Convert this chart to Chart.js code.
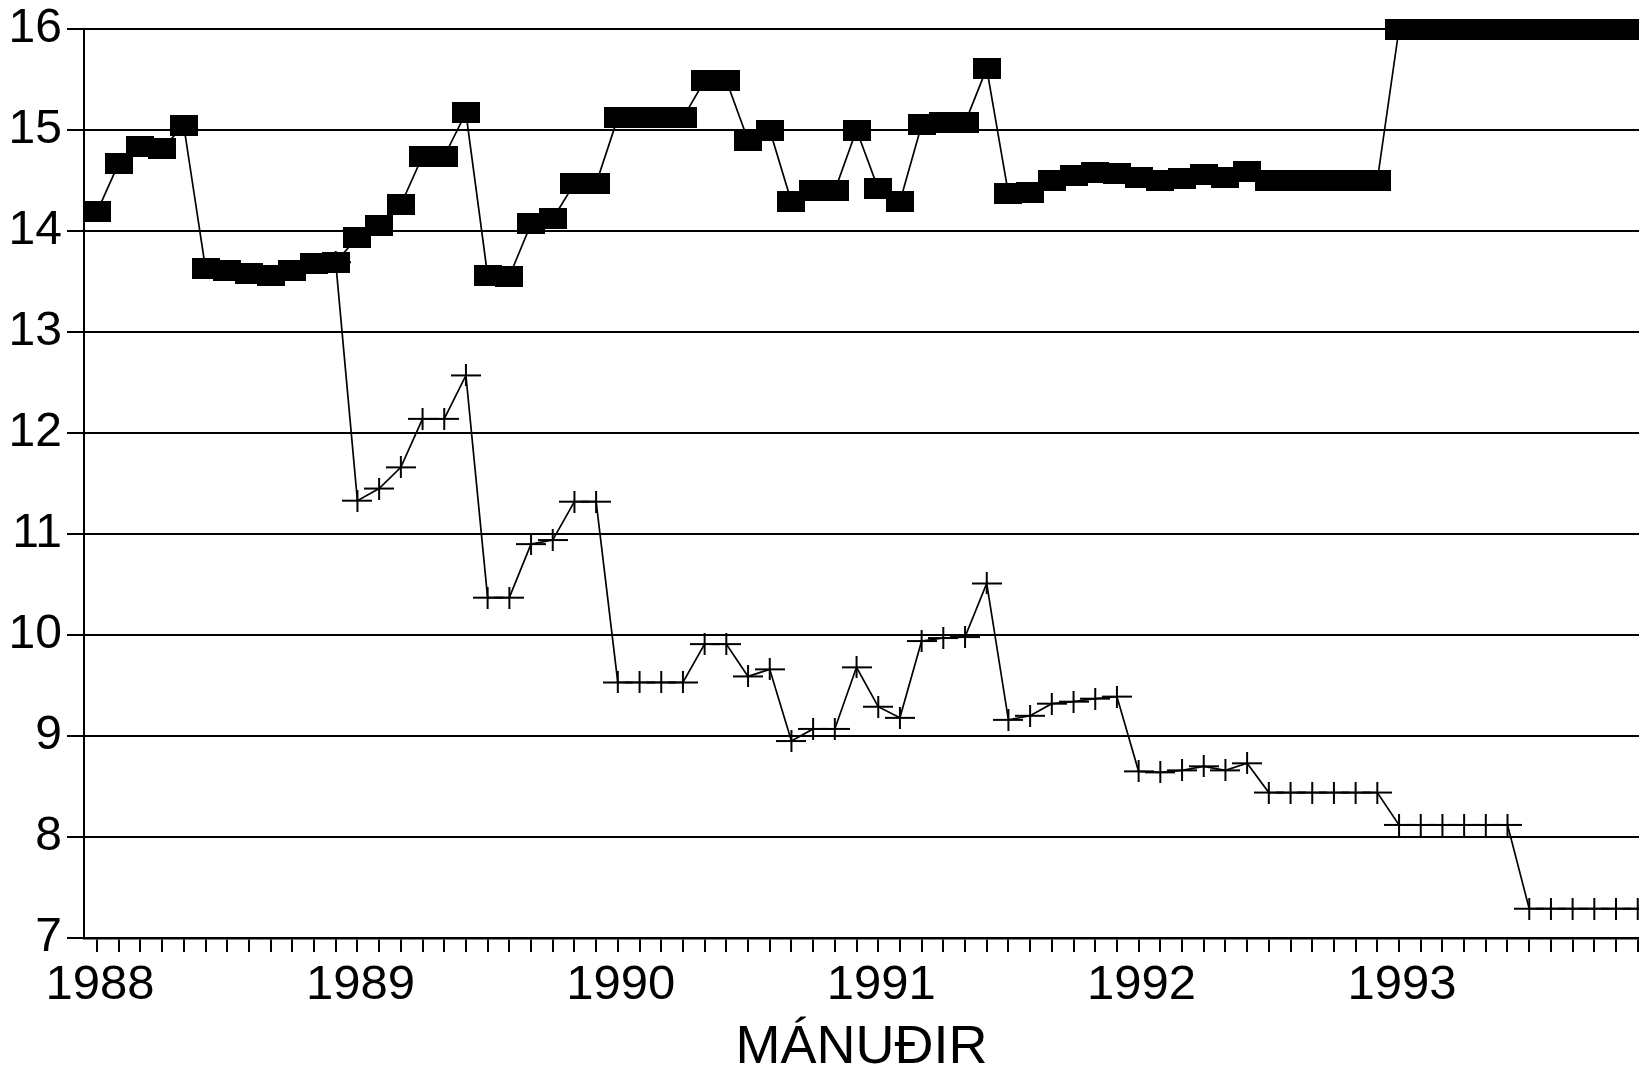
<!DOCTYPE html>
<html>
<head>
<meta charset="utf-8">
<script src="https://cdn.jsdelivr.net/npm/chart.js@4.4.0/dist/chart.umd.min.js"></script>
<style>
html,body{margin:0;padding:0;background:#fff;overflow:hidden}
#wrap{width:1639px;height:1071px;position:relative;background:#fff}
</style>
</head>
<body>
<div id="wrap"><canvas id="c"></canvas></div>
<script>
// ---- data ----
const years = ['1988', '1989', '1990', '1991', '1992', '1993'];
const monthsPerYear = 12;
const yTicks = [7, 8, 9, 10, 11, 12, 13, 14, 15, 16];
const xTitle = 'MÁNUÐIR';

// filled rectangles series
const seriesSquares = [
  14.19, 14.67, 14.84, 14.82, 15.04, 13.63, 13.61, 13.58, 13.56, 13.61, 13.68, 13.69,
  13.94, 14.05, 14.26, 14.74, 14.74, 15.17, 13.56, 13.55, 14.07, 14.12, 14.47, 14.47,
  15.12, 15.12, 15.12, 15.12, 15.49, 15.49, 14.90, 15.00, 14.29, 14.40, 14.40, 15.00,
  14.42, 14.29, 15.05, 15.07, 15.07, 15.61, 14.37, 14.38, 14.50, 14.55, 14.58, 14.57,
  14.53, 14.50, 14.52, 14.56, 14.53, 14.59, 14.50, 14.50, 14.50, 14.50, 14.50, 14.50,
  16.00, 16.00, 16.00, 16.00, 16.00, 16.00, 16.00, 16.00, 16.00, 16.00, 16.00, 16.00
];

// plus-marker series
const seriesPlus = [
  null, null, null, null, null, null, null, null, null, null, null, 13.69,
  11.33, 11.45, 11.66, 12.14, 12.14, 12.57, 10.37, 10.37, 10.90, 10.94, 11.32, 11.32,
  9.53, 9.53, 9.53, 9.53, 9.91, 9.91, 9.59, 9.66, 8.95, 9.07, 9.07, 9.68,
  9.29, 9.18, 9.94, 9.97, 9.98, 10.51, 9.16, 9.20, 9.32, 9.34, 9.37, 9.39,
  8.65, 8.64, 8.66, 8.70, 8.66, 8.73, 8.44, 8.44, 8.44, 8.44, 8.44, 8.44,
  8.12, 8.12, 8.12, 8.12, 8.12, 8.12, 7.29, 7.29, 7.29, 7.29, 7.29, 7.29
];

// ---- markers ----
function makeSquare() {
  const c = document.createElement('canvas');
  c.width = 28; c.height = 21;
  const g = c.getContext('2d');
  g.fillStyle = '#000';
  g.fillRect(0, 0, 28, 21);
  return c;
}
function makePlus() {
  const c = document.createElement('canvas');
  c.width = 30; c.height = 22;
  const g = c.getContext('2d');
  g.fillStyle = '#000';
  g.fillRect(0, 10, 30, 2);
  g.fillRect(14, 0, 2, 22);
  return c;
}

const nMonths = years.length * monthsPerYear;
const monthIdx = Array.from({length: nMonths}, (_, i) => i);
const FONT = "'Liberation Sans', Arial, Helvetica, sans-serif";

new Chart(document.getElementById('c'), {
  type: 'line',
  data: {
    datasets: [
      {
        label: 'A',
        data: seriesSquares.map((v, i) => ({x: monthIdx[i], y: v})),
        borderColor: '#000',
        borderWidth: 1.7,
        pointStyle: makeSquare(),
        pointRadius: 20,
        tension: 0,
        clip: false,
        order: 0
      },
      {
        label: 'B',
        data: seriesPlus.map((v, i) => ({x: monthIdx[i], y: v})),
        borderColor: '#000',
        borderWidth: 1.7,
        pointStyle: makePlus(),
        pointRadius: 20,
        tension: 0,
        clip: false,
        spanGaps: false,
        order: 1
      }
    ]
  },
  options: {
    animation: false,
    responsive: true,
    maintainAspectRatio: false,
    events: [],
    layout: {autoPadding: false, padding: {top: 24, right: 0, left: 0, bottom: 0}},
    plugins: {legend: {display: false}, tooltip: {enabled: false}},
    scales: {
      x: {
        type: 'linear',
        min: -0.6,
        max: 71.06,
        afterBuildTicks: s => { s.ticks = monthIdx.map(v => ({value: v})); },
        afterFit: s => { s.height = 133; },
        grid: {drawOnChartArea: false, drawTicks: true, tickLength: 14, color: '#000', lineWidth: 2},
        border: {display: true, color: '#000', width: 2.5},
        ticks: {
          autoSkip: false, maxRotation: 0, minRotation: 0, padding: 0, labelOffset: 3, color: '#000',
          font: {family: FONT, size: 49, lineHeight: 1.367},
          callback: v => (v % monthsPerYear === 0 ? years[v / monthsPerYear] : '')
        },
        title: {
          display: true, text: xTitle, color: '#000',
          font: {family: FONT, size: 54, lineHeight: 0.86},
          padding: {top: 0, bottom: 0}
        }
      },
      y: {
        min: yTicks[0],
        max: yTicks[yTicks.length - 1],
        afterBuildTicks: s => { s.ticks = yTicks.map(v => ({value: v})); },
        afterFit: s => { s.width = 84; },
        grid: {color: '#000', lineWidth: 2, tickLength: 17, drawTicks: true},
        border: {display: true, color: '#000', width: 2},
        ticks: {
          padding: 5, color: '#000',
          font: {family: FONT, size: 48, lineHeight: 1}
        }
      }
    }
  }
});
</script>
</body>
</html>
